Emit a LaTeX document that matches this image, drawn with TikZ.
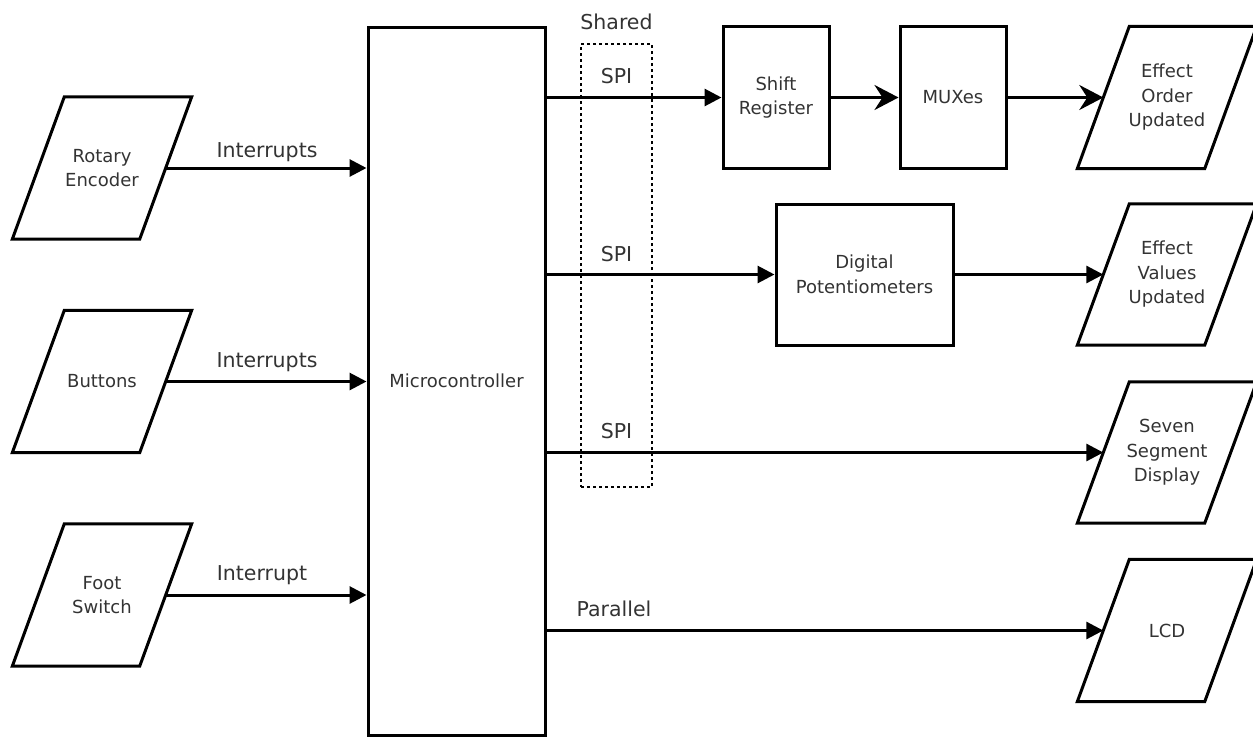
\documentclass[tikz,border=0pt]{standalone}
\usepackage{fontspec}
\setmainfont{DejaVu Sans}
\usetikzlibrary{arrows.meta}
\newcommand{\nodefont}{\fontsize{18}{24.5}\selectfont}
\newcommand{\labfont}{\fontsize{20.5}{24}\selectfont}
\newcommand{\paradraw}[1]{\draw[parabox] ([xshift=26pt]#1.north west) -- ([xshift=26pt]#1.north east) -- ([xshift=-26pt]#1.south east) -- ([xshift=-26pt]#1.south west) -- cycle;}
\begin{document}
\begin{tikzpicture}[x=1pt,y=-1pt,
  box/.style={draw, line width=3pt, inner sep=0pt, align=center, font=\nodefont, text=black!80},
  para/.style={rectangle, minimum width=127pt, minimum height=142pt, inner sep=0pt,
    align=center, font=\nodefont, text=black!80},
  parabox/.style={draw, line width=3pt, line join=miter},
  elabel/.style={font=\labfont, anchor=base, inner sep=0pt, text=black!80},
  conn/.style={line width=3pt, -{Triangle[length=17pt,width=17pt]}},
  conns/.style={line width=3pt, -{Stealth[length=24pt,width=25pt,inset=8pt]}},
  sharedbox/.style={draw, line width=1.5pt, dash pattern=on 3pt off 3pt, inner sep=0pt}
]
\useasboundingbox (0,0) rectangle (1253,737);

% inputs
\node[para] (re) at (102,168) {Rotary\\Encoder};
\node[para] (bt) at (102,381.5) {Buttons};
\node[para] (fs) at (102,595) {Foot\\Switch};
\paradraw{re}
\paradraw{bt}
\paradraw{fs}

% microcontroller
\node[box, minimum width=177pt, minimum height=708pt] (mc) at (456.5,381) {Microcontroller};

% shared bus
\node[sharedbox, minimum width=71pt, minimum height=443pt] (sh) at (616.5,265.5) {};
\node[elabel] (shl) at (616.5,29) {Shared};

% outputs
\node[box, minimum width=106pt, minimum height=142pt] (sr) at (776,97.5) {Shift\\Register};
\node[box, minimum width=106pt, minimum height=142pt] (mux) at (953,97.5) {MUXes};
\node[para] (eou) at (1167,97.5) {Effect\\Order\\Updated};
\node[box, minimum width=177pt, minimum height=141pt] (dp) at (864.5,274.5) {Digital\\Potentiometers};
\node[para, minimum height=141pt] (evu) at (1167,274.5) {Effect\\Values\\Updated};
\node[para, minimum height=141pt] (ssd) at (1167,452.5) {Seven\\Segment\\Display};
\node[para] (lcd) at (1167,630.5) {LCD};
\paradraw{eou}
\paradraw{evu}
\paradraw{ssd}
\paradraw{lcd}

% input connectors
\draw[conn] (re.east) -- (re.east -| mc.west);
\draw[conn] (bt.east) -- (bt.east -| mc.west);
\draw[conn] (fs.east) -- (fs.east -| mc.west);
\node[elabel] at (267,157) {Interrupts};
\node[elabel] at (267,367) {Interrupts};
\node[elabel] at (262,580) {Interrupt};

% output connectors
\draw[conn] (sr.west -| mc.east) -- (sr.west);
\draw[conns] (sr.east) -- (mux.west);
\draw[conns] (mux.east) -- (eou.west);
\draw[conn] (dp.west -| mc.east) -- (dp.west);
\draw[conn] (dp.east) -- (evu.west);
\draw[conn] (ssd.west -| mc.east) -- (ssd.west);
\draw[conn] (lcd.west -| mc.east) -- (lcd.west);

\node[elabel] at (616.5,83) {SPI};
\node[elabel] at (616.5,261) {SPI};
\node[elabel] at (616.5,438) {SPI};
\node[elabel] at (614,616) {Parallel};
\end{tikzpicture}
\end{document}
